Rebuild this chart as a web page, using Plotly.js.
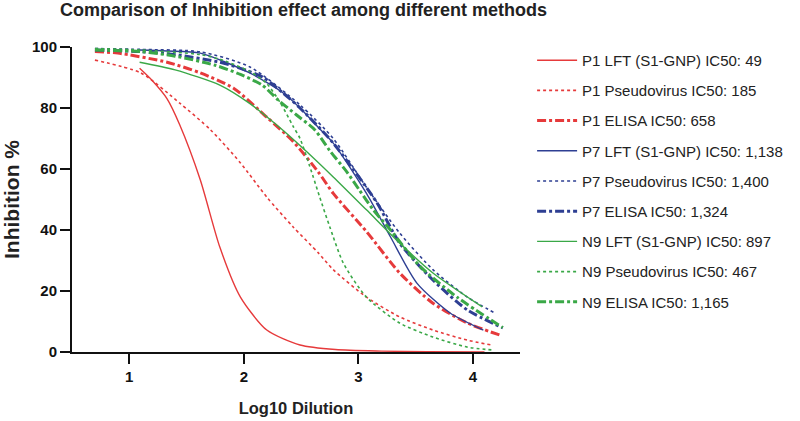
<!DOCTYPE html>
<html>
<head>
<meta charset="utf-8">
<script src="https://cdn.plot.ly/plotly-3.0.1.min.js"></script>
<style>
  html, body { margin: 0; padding: 0; background: #fff; }
  #chart { width: 800px; height: 421px; }
</style>
</head>
<body>
<div id="chart"></div>
<script>
// values (x = log10 dilution, y = inhibition %)
const P1_LFT_X = [1.09, 1.20, 1.33, 1.44, 1.62, 1.79, 1.97, 2.20, 2.49, 2.80, 3.20, 3.60, 4.10];
const P1_LFT_Y = [93, 89, 83, 74.5, 56.4, 34.4, 18, 7.2, 2.3, 0.8, 0.3, 0.1, 0.05];

const P1_PSEUDO_X = [0.70, 1.10, 1.44, 1.71, 1.97, 2.20, 2.43, 2.65, 2.78, 3.07, 3.36, 3.65, 3.95, 4.16];
const P1_PSEUDO_Y = [95.7, 91.5, 81.6, 72.8, 62, 50.8, 41, 32.5, 27, 18, 11.5, 7.2, 3.9, 2.3];

const P1_ELISA_X = [0.70, 0.90, 1.33, 1.62, 1.91, 2.20, 2.43, 2.65, 2.78, 3.07, 3.36, 3.65, 3.95, 4.23];
const P1_ELISA_Y = [98.5, 98, 95, 91.5, 86.5, 77, 69, 59, 52, 39.5, 25.9, 16, 9.5, 5.6];

const P7_LFT_X = [1.09, 1.33, 1.62, 2.05, 2.34, 2.49, 2.64, 2.78, 3.07, 3.28, 3.51, 3.80, 4.09];
const P7_LFT_Y = [99, 98.7, 98, 91.5, 85, 80, 74, 68.5, 52, 37.7, 22.6, 12.8, 7.2];

const P7_PSEUDO_X = [0.70, 1.10, 1.62, 2.05, 2.49, 2.78, 3.07, 3.36, 3.65, 3.95, 4.19];
const P7_PSEUDO_Y = [99.5, 99.2, 98.4, 93.5, 81, 70, 54, 39, 27, 18, 12.8];

const P7_ELISA_X = [0.70, 1.10, 1.40, 1.79, 1.97, 2.17, 2.34, 2.49, 2.78, 3.16, 3.36, 3.65, 3.95, 4.26];
const P7_ELISA_Y = [99, 98.5, 97.5, 95, 93, 90, 85, 80, 68.5, 49, 35.7, 23.6, 13.8, 7.9];

const N9_LFT_X = [1.09, 1.40, 1.79, 2.05, 2.30, 2.49, 2.78, 3.07, 3.36, 3.65, 4.08];
const N9_LFT_Y = [95, 92.5, 87.5, 81.5, 74, 67.7, 57.4, 46.6, 35.7, 25.9, 14.8];

const N9_PSEUDO_X = [0.70, 1.10, 1.62, 1.79, 2.05, 2.20, 2.32, 2.43, 2.49, 2.60, 2.66, 2.75, 2.87, 3.07, 3.36, 3.65, 3.95, 4.16];
const N9_PSEUDO_Y = [99.5, 99, 97.5, 96, 92, 88, 81.6, 74, 70, 58, 51, 41, 29, 18, 9.5, 4.9, 1.6, 0.7];

const N9_ELISA_X = [0.70, 1.10, 1.40, 1.75, 1.97, 2.16, 2.30, 2.46, 2.62, 2.75, 2.90, 3.01, 3.13, 3.28, 3.54, 3.86, 4.26];
const N9_ELISA_Y = [99, 98.5, 97, 94, 91, 87.5, 82.6, 77.7, 72.8, 66, 59, 53, 46.6, 40, 28, 18, 8];

const X_TICKS = [1, 2, 3, 4];
const Y_TICKS = [0, 20, 40, 60, 80, 100];

const COLORS = {
  p1: '#e63a3b',
  p7: '#2e3f93',
  n9: '#3aa847',
};

const FONT = 'Arial, "Liberation Sans", sans-serif';

function curve(x, y, name, color, kind) {
  const line = { color: color, width: 1.4, shape: 'spline', smoothing: 0.7 };
  if (kind === 'dot') { line.dash = 'dot'; line.width = 1.6; }
  if (kind === 'dashdot') { line.dash = 'dashdot'; line.width = 3; }
  return { x: x, y: y, name: name, legendgroup: name, mode: 'lines', line: line, hoverinfo: 'skip' };
}

const traces = [
  curve(P1_LFT_X, P1_LFT_Y, 'P1 LFT (S1-GNP) IC50: 49', COLORS.p1, 'solid'),
  curve(P1_PSEUDO_X, P1_PSEUDO_Y, 'P1 Pseudovirus IC50: 185', COLORS.p1, 'dot'),
  curve(P1_ELISA_X, P1_ELISA_Y, 'P1 ELISA IC50: 658', COLORS.p1, 'dashdot'),
  curve(P7_LFT_X, P7_LFT_Y, 'P7 LFT (S1-GNP) IC50: 1,138', COLORS.p7, 'solid'),
  curve(P7_PSEUDO_X, P7_PSEUDO_Y, 'P7 Pseudovirus IC50: 1,400', COLORS.p7, 'dot'),
  curve(P7_ELISA_X, P7_ELISA_Y, 'P7 ELISA IC50: 1,324', COLORS.p7, 'dashdot'),
  curve(N9_LFT_X, N9_LFT_Y, 'N9 LFT (S1-GNP) IC50: 897', COLORS.n9, 'solid'),
  curve(N9_PSEUDO_X, N9_PSEUDO_Y, 'N9 Pseudovirus IC50: 467', COLORS.n9, 'dot'),
  curve(N9_ELISA_X, N9_ELISA_Y, 'N9 ELISA IC50: 1,165', COLORS.n9, 'dashdot'),
];

const axisBase = {
  showline: true, linecolor: '#111', linewidth: 2,
  ticks: 'outside', ticklen: 10, tickwidth: 2, tickcolor: '#111',
  showgrid: false, zeroline: false,
  tickfont: { family: FONT, size: 15, color: '#111', weight: 'bold' },
};

const layout = {
  width: 800, height: 421,
  paper_bgcolor: '#fff', plot_bgcolor: '#fff',
  font: { family: FONT, color: '#111' },
  margin: { l: 72, r: 280, t: 47, b: 69 },
  title: {
    text: '<b>Comparison of Inhibition effect among different methods</b>',
    font: { family: FONT, size: 18, color: '#222' },
    xref: 'container', x: 60 / 800, xanchor: 'left',
    yref: 'container', y: 1 - 10 / 421, yanchor: 'middle',
  },
  xaxis: {
    ...axisBase,
    range: [0.5, 4.41],
    tickvals: X_TICKS,
    title: { text: '<b>Log10 Dilution</b>', font: { family: FONT, size: 16.5, color: '#222' }, standoff: 18 },
  },
  yaxis: {
    ...axisBase,
    range: [0, 100],
    tickvals: Y_TICKS,
    title: { text: '<b>Inhibition %</b>', font: { family: FONT, size: 21, color: '#222' }, standoff: 8 },
  },
  showlegend: true,
  legend: {
    x: 1.027, xanchor: 'left', y: 1.01, yanchor: 'top',
    font: { family: FONT, size: 15, color: '#222' },
    tracegroupgap: 7.7, itemwidth: 40, maxheight: 380,
    bgcolor: 'rgba(0,0,0,0)',
  },
};

Plotly.newPlot('chart', traces, layout, { displayModeBar: false, staticPlot: true });
</script>
</body>
</html>
